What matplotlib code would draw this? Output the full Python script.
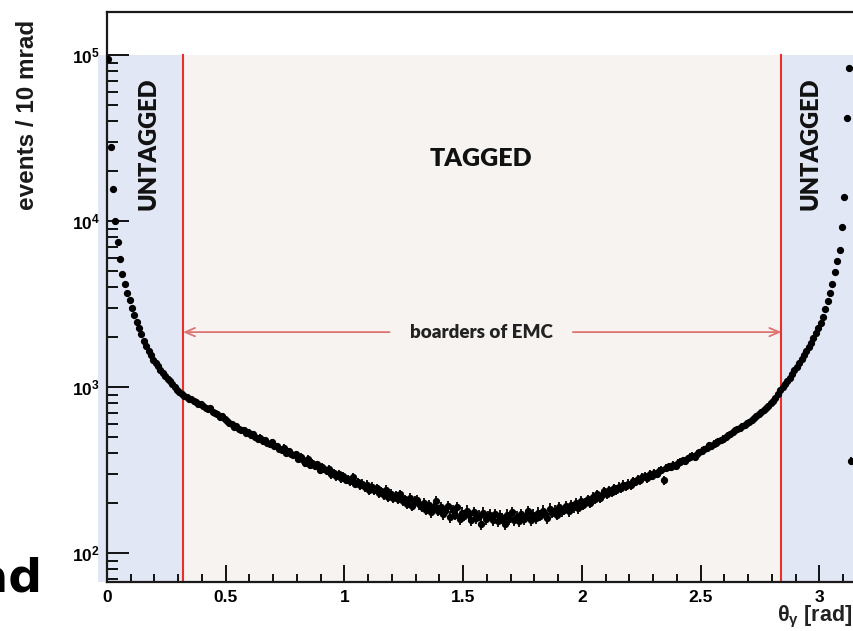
"""
Photon polar angle distribution, events per 10 mrad, with the EMC
acceptance borders marking tagged / untagged regions.
"""

import numpy as np
import matplotlib.pyplot as plt
from matplotlib.ticker import FixedLocator, LogLocator, NullFormatter, FuncFormatter

plt.rcParams["mathtext.fontset"] = "custom"
plt.rcParams["mathtext.rm"] = "Liberation Sans:bold"
plt.rcParams["mathtext.bf"] = "Liberation Sans:bold"
plt.rcParams["mathtext.it"] = "Liberation Sans:bold"
plt.rcParams["mathtext.default"] = "bf"

BIN_WIDTH = 0.01  # 10 mrad bins from 0 to pi

# counts, bin by bin
counts_left = [95000, 28000, 15500, 10000, 7500, 5900, 4800, 4200, 3700, 3350,
               3000, 2700, 2450, 2250, 2080, 1900, 1760, 1640, 1550, 1460,
               1390, 1330, 1270, 1220, 1170, 1120, 1080, 1040, 1000, 965,
               935, 905]
counts_tagged = [
    880, 865, 850, 842, 820, 812, 790, 785, 770, 752,
    738, 745, 705, 700, 690, 655, 668, 640, 622, 610,
    598, 575, 580, 560, 548, 552, 530, 535, 512, 518,
    500, 488, 495, 470, 478, 460, 452, 465, 440, 438,
    425, 418, 430, 402, 410, 395, 388, 392, 370, 378,
    362, 350, 368, 340, 348, 335, 342, 318, 330, 320,
    312, 322, 298, 305, 290, 300, 282, 292, 276, 280,
    270, 285, 262, 268, 255, 262, 248, 258, 240, 250,
    238, 245, 230, 236, 222, 240, 218, 228, 215, 222,
    212, 225, 205, 210, 198, 215, 192, 205, 208, 196,
    190, 200, 182, 195, 176, 190, 205, 180, 188, 172,
    178, 192, 165, 182, 170, 188, 160, 175, 168, 180,
    172, 158, 176, 162, 168, 150, 175, 160, 166, 170,
    158, 172, 155, 168, 162, 150, 170, 160, 176, 158,
    165, 155, 172, 160, 168, 178, 158, 170, 162, 175,
    168, 180, 172, 162, 185, 175, 180, 170, 190, 178,
    182, 192, 178, 195, 188, 200, 186, 205, 195, 200,
    210, 200, 218, 212, 225, 215, 222, 235, 225, 238,
    232, 245, 240, 250, 245, 258, 252, 262, 255, 270,
    268, 280, 275, 285, 290, 282, 298, 292, 305, 300,
    312, 318, 275, 325, 332, 328, 340, 335, 350, 352,
    362, 358, 372, 380, 385, 378, 395, 405, 412, 420,
    430, 445, 438, 455, 462, 470, 480, 488, 500, 512,
    522, 535, 548, 555, 568, 580, 592, 605, 618, 635,
    650, 668, 690, 705, 725, 750, 772, 800, 825, 858,
    905, 955]
counts_right = [1000, 1040, 1090, 1140, 1200, 1260, 1320, 1390, 1470, 1550,
                1640, 1740, 1850, 1970, 2110, 2260, 2430, 2630, 2950, 3300,
                3700, 4200, 4900, 5700, 6700, 9200, 13900, 42000, 84000, 360]

emc_borders = [0.32, 2.84]
region_labels = ["UNTAGGED", "TAGGED", "UNTAGGED"]

counts = np.array(counts_left + counts_tagged + counts_right, dtype=float)
theta = (np.arange(counts.size) + 0.5) * BIN_WIDTH

fig = plt.figure(figsize=(8.54, 6.31), dpi=100)
ax = fig.add_axes([107 / 854, 1 - 581.5 / 631, (853 - 107) / 854, (581.5 - 12) / 631])

ymin, ymax = 67.3, 1.815e5
ax.set_yscale("log")
ax.set_xlim(0, np.pi)
ax.set_ylim(ymin, ymax)

# shaded acceptance regions
blue = "#e2e7f5"
beige = "#f7f3f1"
ax.fill_between([-0.038, emc_borders[0]], ymin, 1e5, color=blue, lw=0, zorder=0, clip_on=False)
ax.fill_between([emc_borders[0], emc_borders[1]], ymin, 1e5, color=beige, lw=0, zorder=0)
ax.fill_between([emc_borders[1], np.pi], ymin, 1e5, color=blue, lw=0, zorder=0)

red = "#e8312a"
for b in emc_borders:
    ax.plot([b, b], [ymin, 1e5], color=red, lw=1.5, zorder=2)

# arrow "boarders of EMC"
arrow_y = 2140
arrow_col = "#de7472"
ax.annotate("", xy=(emc_borders[0], arrow_y), xytext=(1.19, arrow_y),
            arrowprops=dict(arrowstyle="->,head_length=0.7,head_width=0.3",
                            color=arrow_col, lw=1.3, shrinkA=0, shrinkB=0), zorder=2)
ax.annotate("", xy=(emc_borders[1], arrow_y), xytext=(1.962, arrow_y),
            arrowprops=dict(arrowstyle="->,head_length=0.7,head_width=0.3",
                            color=arrow_col, lw=1.3, shrinkA=0, shrinkB=0), zorder=2)
ax.text(1.575, arrow_y, "boarders of EMC", family="Lato", weight="heavy",
        fontsize=13.5, color="#222222", ha="center", va="center")

ax.text(1.575, 23500, region_labels[1], family="Lato", weight="heavy",
        fontsize=18, color="#111111", ha="center", va="center")
ax.text(0.173, 29100, region_labels[0], family="Lato", weight="heavy",
        fontsize=17, color="#111111", ha="center", va="center", rotation=90)
ax.text(2.964, 29100, region_labels[2], family="Lato", weight="heavy",
        fontsize=17, color="#111111", ha="center", va="center", rotation=90)

# data points
ax.errorbar(theta, counts, yerr=np.sqrt(counts), fmt="o", ms=4.2,
            color="black", elinewidth=1.3, capsize=0, zorder=3)

# axes styling, ROOT-like
for side in ["left", "bottom", "top"]:
    ax.spines[side].set_linewidth(1.6)
    ax.spines[side].set_color("#1a1a1a")
ax.spines["right"].set_visible(False)

ax.xaxis.set_major_locator(FixedLocator([0, 0.5, 1, 1.5, 2, 2.5, 3]))
ax.xaxis.set_minor_locator(FixedLocator(np.arange(0.1, 3.15, 0.1)))
ax.xaxis.set_major_formatter(FuncFormatter(lambda v, p: f"{v:g}"))
ax.yaxis.set_major_locator(LogLocator(base=10, numticks=10))
ax.yaxis.set_minor_locator(LogLocator(base=10, subs=np.arange(2, 10), numticks=20))
ax.yaxis.set_minor_formatter(NullFormatter())

ax.tick_params(axis="x", which="major", direction="in", length=12, width=1.3,
               pad=6, labelsize=12.5, top=False)
ax.tick_params(axis="x", which="minor", direction="in", length=6, width=1.3, top=False)
ax.tick_params(axis="y", which="major", direction="in", length=16, width=1.3,
               pad=5, labelsize=12.5, right=False)
ax.tick_params(axis="y", which="minor", direction="in", length=8, width=1.3, right=False)
for lab in ax.get_xticklabels() + ax.get_yticklabels():
    lab.set_family("Liberation Sans")
    lab.set_weight("bold")

fig.text(28 / 854, 1 - 115 / 631, "events / 10 mrad", family="Liberation Sans",
         weight="bold", fontsize=17.5, rotation=90, ha="center", va="center",
         color="#1a1a1a")
fig.text(852 / 854, 1 - 617 / 631, r"$\theta_{\gamma}$ [rad]", family="Liberation Sans",
         weight="bold", fontsize=15.5, ha="right", va="center", color="#222222")

# clipped slide text at the left border
fig.text(42 / 854, 1 - 592 / 631, "rad", family="DejaVu Sans", weight="bold",
         fontsize=34, ha="right", va="baseline", color="black")

fig.savefig("out.png", dpi=100)
